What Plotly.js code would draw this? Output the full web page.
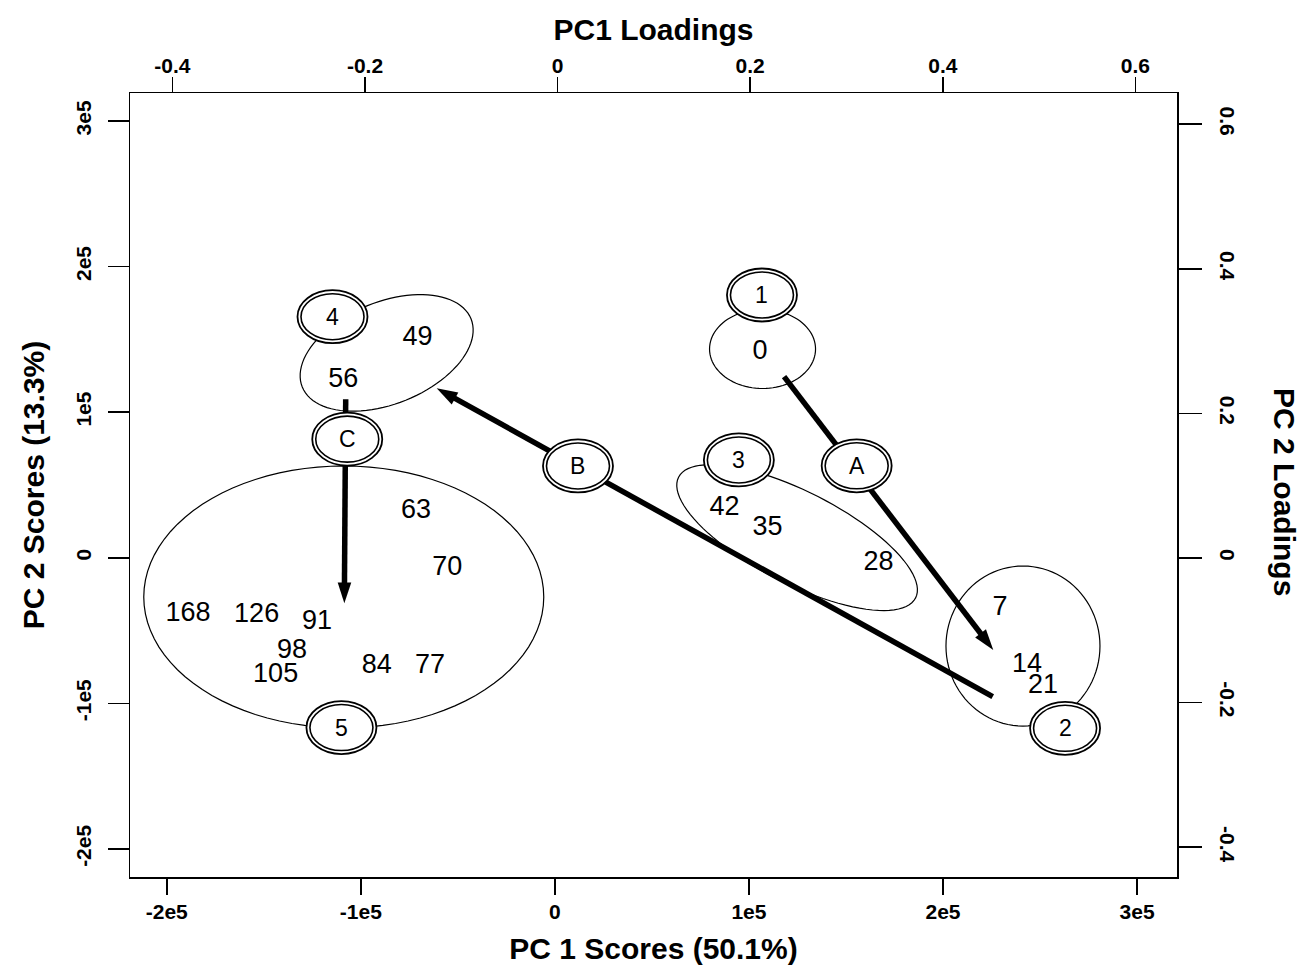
<!DOCTYPE html>
<html>
<head>
<meta charset="utf-8">
<script src="https://cdn.plot.ly/plotly-3.0.1.min.js"></script>
<style>
html,body{margin:0;padding:0;background:#ffffff;}
#chart{width:1300px;height:969px;}
</style>
</head>
<body>
<div id="chart"></div>
<script>
// ---- sampling-day labels and their PCA scores ----
const dayLabels = ["0","7","14","21","28","35","42","49","56","63","70","77","84","91","98","105","126","168"];
const pc1Scores = [105700, 229400, 243300, 251500, 166700, 109600, 87400, -70800, -109000, -71600, -55500, -64400, -91800, -122600, -135500, -143900, -153700, -189100];
const pc2Scores = [140900, -34800, -73600, -88400, -3400, 20300, 34000, 150800, 121800, 31700, -7200, -74300, -74300, -44600, -64500, -80500, -39300, -38600];

// ---- group badges (numbered clusters and lettered transitions) ----
const badgeLabels = ["1","2","3","4","5","A","B","C"];
const badgeX = [106700, 262900, 94800, -114600, -110000, 155500, 11900, -107000];
const badgeY = [180500, -117100, 67200, 165600, -116600, 63200, 63100, 81500];

// ---- transition arrows ----
const arrowLabels = ["A","B","C"];
const arrowFromX = [118100, 225600, -107800];
const arrowFromY = [124400, -95400, 108900];
const arrowToX = [225900, -60900, -108500];
const arrowToY = [-63300, 116400, -31300];

// ---- cluster ellipse centres ----
const clusterNames = ["1","2","3","4","5"];
const clusterCenterX = [107000, 241200, 124800, -86700, -108800];
const clusterCenterY = [143400, -60600, 13900, 140700, -26900];

// ---- axis ticks ----
const scoreTicks = [-200000, -100000, 0, 100000, 200000, 300000];
const scoreTickText = ["-2e5", "-1e5", "0", "1e5", "2e5", "3e5"];
const loadingTicks = [-0.4, -0.2, 0, 0.2, 0.4, 0.6];
const loadingTickText = ["-0.4", "-0.2", "0", "0.2", "0.4", "0.6"];

// ---- geometry / style (not data) ----
const X_RANGE = [-218950, 320570];
const Y_RANGE = [-219230, 319230];
const X2_RANGE = [-0.4440, 0.6432];
const Y2_RANGE = [-0.4412, 0.6432];
const MARGIN = {l: 130, r: 123, t: 93, b: 92};
const W = 1300, H = 969;
const plotW = W - MARGIN.l - MARGIN.r;
const plotH = H - MARGIN.t - MARGIN.b;
const kx = plotW / (X_RANGE[1] - X_RANGE[0]);  // px per data unit
const ky = plotH / (Y_RANGE[1] - Y_RANGE[0]);

// ellipse semi-axes (px) and tilt (deg, counter-clockwise on screen)
const ellipseGeom = [
  {a: 53, b: 39.5, tilt: 0},
  {a: 77, b: 80, tilt: 0},
  {a: 133, b: 46, tilt: -27},
  {a: 91, b: 51, tilt: 22},
  {a: 200, b: 131, tilt: 0}
];

const FONT = "Liberation Sans, Arial, Helvetica, sans-serif";

function ellipsePath(cx, cy, g) {
  const th = g.tilt * Math.PI / 180;
  const n = 96;
  let p = "";
  for (let i = 0; i <= n; i++) {
    const t = 2 * Math.PI * i / n;
    const dx = g.a * Math.cos(t) * Math.cos(th) - g.b * Math.sin(t) * Math.sin(th);
    const dy = g.a * Math.cos(t) * Math.sin(th) + g.b * Math.sin(t) * Math.cos(th);
    const x = cx + dx / kx;
    const y = cy + dy / ky;
    p += (i === 0 ? "M" : "L") + x.toFixed(1) + "," + y.toFixed(1);
  }
  return p + "Z";
}

const shapes = [];
clusterNames.forEach((n, i) => {
  shapes.push({
    type: "path", xref: "x", yref: "y", layer: "above",
    path: ellipsePath(clusterCenterX[i], clusterCenterY[i], ellipseGeom[i]),
    line: {color: "black", width: 1.2}, fillcolor: "rgba(0,0,0,0)"
  });
});
badgeLabels.forEach((b, i) => {
  shapes.push({
    type: "circle", xref: "x", yref: "y", layer: "above",
    xsizemode: "pixel", ysizemode: "pixel",
    xanchor: badgeX[i], yanchor: badgeY[i],
    x0: -35, x1: 35, y0: -26.5, y1: 26.5,
    fillcolor: "white", line: {color: "black", width: 1.8}
  });
  shapes.push({
    type: "circle", xref: "x", yref: "y", layer: "above",
    xsizemode: "pixel", ysizemode: "pixel",
    xanchor: badgeX[i], yanchor: badgeY[i],
    x0: -31.5, x1: 31.5, y0: -23, y1: 23,
    fillcolor: "rgba(0,0,0,0)", line: {color: "black", width: 1.6}
  });
});

const annotations = badgeLabels.map((b, i) => ({
  x: badgeX[i], y: badgeY[i], xref: "x", yref: "y",
  text: b, showarrow: false, xanchor: "center", yanchor: "middle",
  font: {family: FONT, size: 23, color: "black"}
}));
annotations.push({
  xref: "paper", yref: "paper", x: (1285 - MARGIN.l) / plotW, y: (H - MARGIN.b - 492) / plotH,
  text: "PC 2 Loadings", textangle: 90, showarrow: false,
  xanchor: "center", yanchor: "middle",
  font: {family: FONT, size: 30, color: "black", weight: "bold"}
});

const traces = [];
arrowLabels.forEach((a, i) => {
  traces.push({
    type: "scatter", mode: "lines+markers", name: "transition " + a,
    x: [arrowFromX[i], arrowToX[i]], y: [arrowFromY[i], arrowToY[i]],
    line: {color: "black", width: 5.5},
    marker: {symbol: "arrow", size: [0, 22], angleref: "previous", color: "black", opacity: 1, line: {width: 0}},
    hoverinfo: "skip", showlegend: false, cliponaxis: false
  });
});
traces.push({
  type: "scatter", mode: "text", name: "days",
  x: pc1Scores, y: pc2Scores, text: dayLabels,
  textposition: "middle center",
  textfont: {family: FONT, size: 27, color: "black"},
  hoverinfo: "skip", showlegend: false, cliponaxis: false
});
traces.push({
  type: "scatter", mode: "markers", x: [], y: [], xaxis: "x2", yaxis: "y2",
  showlegend: false, hoverinfo: "skip"
});

const tickFont = {family: FONT, size: 21, color: "black", weight: "bold"};
const titleFont = {family: FONT, size: 30, color: "black", weight: "bold"};
const axCommon = {
  ticks: "outside", tickwidth: 1.5, tickcolor: "black",
  showline: true, linecolor: "black", linewidth: 1.5,
  showgrid: false, zeroline: false, fixedrange: true, tickfont: tickFont
};

const layout = {
  width: W, height: H, margin: MARGIN,
  paper_bgcolor: "white", plot_bgcolor: "white",
  showlegend: false,
  xaxis: Object.assign({}, axCommon, {
    range: X_RANGE, tickmode: "array", tickvals: scoreTicks, ticktext: scoreTickText,
    ticklen: 16, ticklabelstandoff: -1,
    title: {text: "PC 1 Scores (50.1%)", font: titleFont, standoff: 16}
  }),
  xaxis2: Object.assign({}, axCommon, {
    overlaying: "x", side: "top", anchor: "y",
    range: X2_RANGE, tickmode: "array", tickvals: loadingTicks, ticktext: loadingTickText,
    ticklen: 15, ticklabelstandoff: -5,
    title: {text: "PC1 Loadings", font: titleFont, standoff: 4}
  }),
  yaxis: Object.assign({}, axCommon, {
    range: Y_RANGE, tickmode: "array", tickvals: scoreTicks, ticktext: scoreTickText,
    ticklen: 21, tickangle: -90, ticklabelstandoff: 8,
    title: {text: "PC 2 Scores (13.3%)", font: titleFont, standoff: 18}
  }),
  yaxis2: Object.assign({}, axCommon, {
    overlaying: "y", side: "right", anchor: "x",
    range: Y2_RANGE, tickmode: "array", tickvals: loadingTicks, ticktext: loadingTickText,
    ticklen: 23, tickangle: 90, ticklabelstandoff: 10
  }),
  shapes: shapes,
  annotations: annotations
};

Plotly.newPlot("chart", traces, layout, {displayModeBar: false, staticPlot: true});
</script>
</body>
</html>
